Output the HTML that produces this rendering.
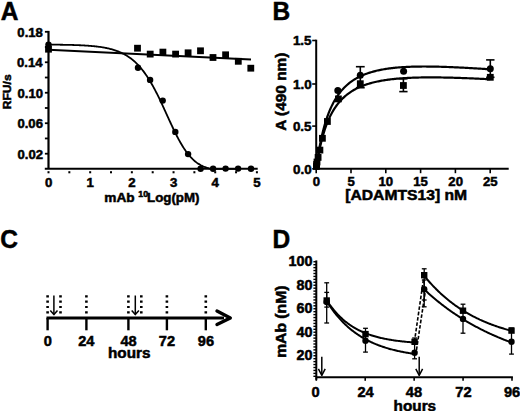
<!DOCTYPE html>
<html><head><meta charset="utf-8"><style>
html,body{margin:0;padding:0;background:#fff;width:520px;height:411px;overflow:hidden}
svg{display:block}
text{font-family:"Liberation Sans",sans-serif;font-weight:bold;fill:#000}
</style></head><body>
<svg width="520" height="411" viewBox="0 0 520 411">
<text x="0.72" y="19.55" font-size="25.0" textLength="17.69" lengthAdjust="spacingAndGlyphs" stroke="#000" stroke-width="0.5">A</text>
<line x1="48.50" y1="30.90" x2="48.50" y2="168.80" stroke="#000" stroke-width="2.2" />
<line x1="44.80" y1="168.80" x2="257.70" y2="168.80" stroke="#000" stroke-width="2.1" />
<line x1="44.90" y1="31.80" x2="48.50" y2="31.80" stroke="#000" stroke-width="1.8" />
<line x1="44.90" y1="47.04" x2="48.50" y2="47.04" stroke="#000" stroke-width="1.8" />
<line x1="44.90" y1="62.27" x2="48.50" y2="62.27" stroke="#000" stroke-width="1.8" />
<line x1="44.90" y1="77.51" x2="48.50" y2="77.51" stroke="#000" stroke-width="1.8" />
<line x1="44.90" y1="92.75" x2="48.50" y2="92.75" stroke="#000" stroke-width="1.8" />
<line x1="44.90" y1="107.99" x2="48.50" y2="107.99" stroke="#000" stroke-width="1.8" />
<line x1="44.90" y1="123.23" x2="48.50" y2="123.23" stroke="#000" stroke-width="1.8" />
<line x1="44.90" y1="138.46" x2="48.50" y2="138.46" stroke="#000" stroke-width="1.8" />
<line x1="44.90" y1="153.70" x2="48.50" y2="153.70" stroke="#000" stroke-width="1.8" />
<text x="17.36" y="36.80" font-size="12.5" textLength="25.55" lengthAdjust="spacingAndGlyphs" stroke="#000" stroke-width="0.5">0.18</text>
<text x="17.03" y="67.28" font-size="12.5" textLength="25.55" lengthAdjust="spacingAndGlyphs" stroke="#000" stroke-width="0.5">0.14</text>
<text x="17.49" y="97.75" font-size="12.5" textLength="25.55" lengthAdjust="spacingAndGlyphs" stroke="#000" stroke-width="0.5">0.10</text>
<text x="17.43" y="128.23" font-size="12.5" textLength="25.55" lengthAdjust="spacingAndGlyphs" stroke="#000" stroke-width="0.5">0.06</text>
<text x="17.48" y="158.70" font-size="12.5" textLength="25.55" lengthAdjust="spacingAndGlyphs" stroke="#000" stroke-width="0.5">0.02</text>
<line x1="48.50" y1="171.20" x2="48.50" y2="173.30" stroke="#000" stroke-width="2.0" />
<line x1="69.34" y1="171.20" x2="69.34" y2="173.30" stroke="#000" stroke-width="2.0" />
<line x1="90.18" y1="171.20" x2="90.18" y2="173.30" stroke="#000" stroke-width="2.0" />
<line x1="111.02" y1="171.20" x2="111.02" y2="173.30" stroke="#000" stroke-width="2.0" />
<line x1="131.86" y1="171.20" x2="131.86" y2="173.30" stroke="#000" stroke-width="2.0" />
<line x1="152.70" y1="171.20" x2="152.70" y2="173.30" stroke="#000" stroke-width="2.0" />
<line x1="173.54" y1="171.20" x2="173.54" y2="173.30" stroke="#000" stroke-width="2.0" />
<line x1="194.38" y1="171.20" x2="194.38" y2="173.30" stroke="#000" stroke-width="2.0" />
<line x1="215.22" y1="171.20" x2="215.22" y2="173.30" stroke="#000" stroke-width="2.0" />
<line x1="236.06" y1="171.20" x2="236.06" y2="173.30" stroke="#000" stroke-width="2.0" />
<line x1="256.90" y1="171.20" x2="256.90" y2="173.30" stroke="#000" stroke-width="2.0" />
<text x="44.98" y="186.70" font-size="12.5" textLength="7.37" lengthAdjust="spacingAndGlyphs" stroke="#000" stroke-width="0.5">0</text>
<text x="86.41" y="186.70" font-size="12.5" textLength="7.37" lengthAdjust="spacingAndGlyphs" stroke="#000" stroke-width="0.5">1</text>
<text x="128.36" y="186.76" font-size="12.5" textLength="7.37" lengthAdjust="spacingAndGlyphs" stroke="#000" stroke-width="0.5">2</text>
<text x="170.09" y="186.69" font-size="12.5" textLength="7.37" lengthAdjust="spacingAndGlyphs" stroke="#000" stroke-width="0.5">3</text>
<text x="211.62" y="186.70" font-size="12.5" textLength="7.37" lengthAdjust="spacingAndGlyphs" stroke="#000" stroke-width="0.5">4</text>
<text x="253.35" y="186.64" font-size="12.5" textLength="7.37" lengthAdjust="spacingAndGlyphs" stroke="#000" stroke-width="0.5">5</text>
<text x="104.30" y="201.50" font-size="12.4" textLength="30.31" lengthAdjust="spacingAndGlyphs" stroke="#000" stroke-width="0.5">mAb</text>
<text x="138.35" y="197.43" font-size="8.2" textLength="9.76" lengthAdjust="spacingAndGlyphs" stroke="#000" stroke-width="0.5">10</text>
<text x="147.01" y="201.68" font-size="12.8" textLength="52.48" lengthAdjust="spacingAndGlyphs" stroke="#000" stroke-width="0.5">Log(pM)</text>
<text transform="translate(11.26,109.36) rotate(-90)" x="0" y="0" font-size="11.8" textLength="35.11" lengthAdjust="spacingAndGlyphs" stroke="#000" stroke-width="0.5">RFU/s</text>
<path d="M48.50,44.61 L49.24,44.62 L49.98,44.62 L50.72,44.63 L51.46,44.63 L52.20,44.64 L52.94,44.65 L53.68,44.65 L54.42,44.66 L55.15,44.67 L55.89,44.68 L56.63,44.69 L57.37,44.69 L58.11,44.70 L58.85,44.71 L59.59,44.72 L60.33,44.73 L61.07,44.74 L61.81,44.75 L62.55,44.77 L63.29,44.78 L64.03,44.79 L64.77,44.80 L65.51,44.82 L66.25,44.83 L66.98,44.85 L67.72,44.86 L68.46,44.88 L69.20,44.90 L69.94,44.92 L70.68,44.93 L71.42,44.95 L72.16,44.97 L72.90,45.00 L73.64,45.02 L74.38,45.04 L75.12,45.07 L75.86,45.09 L76.60,45.12 L77.34,45.15 L78.08,45.18 L78.81,45.21 L79.55,45.24 L80.29,45.27 L81.03,45.30 L81.77,45.34 L82.51,45.38 L83.25,45.42 L83.99,45.46 L84.73,45.50 L85.47,45.55 L86.21,45.59 L86.95,45.64 L87.69,45.69 L88.43,45.74 L89.17,45.80 L89.91,45.86 L90.64,45.92 L91.38,45.98 L92.12,46.05 L92.86,46.11 L93.60,46.19 L94.34,46.26 L95.08,46.34 L95.82,46.42 L96.56,46.50 L97.30,46.59 L98.04,46.68 L98.78,46.78 L99.52,46.88 L100.26,46.98 L101.00,47.09 L101.74,47.21 L102.47,47.33 L103.21,47.45 L103.95,47.58 L104.69,47.71 L105.43,47.85 L106.17,48.00 L106.91,48.15 L107.65,48.31 L108.39,48.48 L109.13,48.65 L109.87,48.83 L110.61,49.02 L111.35,49.21 L112.09,49.41 L112.83,49.63 L113.57,49.85 L114.31,50.08 L115.04,50.32 L115.78,50.57 L116.52,50.83 L117.26,51.10 L118.00,51.38 L118.74,51.67 L119.48,51.97 L120.22,52.29 L120.96,52.62 L121.70,52.96 L122.44,53.32 L123.18,53.69 L123.92,54.07 L124.66,54.47 L125.40,54.89 L126.14,55.32 L126.87,55.77 L127.61,56.23 L128.35,56.71 L129.09,57.22 L129.83,57.74 L130.57,58.27 L131.31,58.83 L132.05,59.41 L132.79,60.01 L133.53,60.63 L134.27,61.28 L135.01,61.94 L135.75,62.63 L136.49,63.35 L137.23,64.08 L137.97,64.84 L138.70,65.63 L139.44,66.44 L140.18,67.28 L140.92,68.15 L141.66,69.04 L142.40,69.96 L143.14,70.90 L143.88,71.88 L144.62,72.88 L145.36,73.91 L146.10,74.97 L146.84,76.06 L147.58,77.18 L148.32,78.32 L149.06,79.50 L149.80,80.70 L150.53,81.93 L151.27,83.19 L152.01,84.47 L152.75,85.79 L153.49,87.13 L154.23,88.49 L154.97,89.89 L155.71,91.30 L156.45,92.74 L157.19,94.20 L157.93,95.69 L158.67,97.19 L159.41,98.71 L160.15,100.25 L160.89,101.81 L161.63,103.38 L162.36,104.97 L163.10,106.57 L163.84,108.17 L164.58,109.79 L165.32,111.41 L166.06,113.03 L166.80,114.66 L167.54,116.29 L168.28,117.91 L169.02,119.53 L169.76,121.15 L170.50,122.75 L171.24,124.35 L171.98,125.93 L172.72,127.50 L173.46,129.06 L174.19,130.59 L174.93,132.11 L175.67,133.60 L176.41,135.07 L177.15,136.51 L177.89,137.93 L178.63,139.32 L179.37,140.68 L180.11,142.00 L180.85,143.30 L181.59,144.56 L182.33,145.79 L183.07,146.98 L183.81,148.14 L184.55,149.26 L185.29,150.35 L186.03,151.40 L186.76,152.41 L187.50,153.39 L188.24,154.33 L188.98,155.23 L189.72,156.10 L190.46,156.93 L191.20,157.72 L191.94,158.48 L192.68,159.21 L193.42,159.90 L194.16,160.56 L194.90,161.19 L195.64,161.79 L196.38,162.35 L197.12,162.89 L197.86,163.40 L198.59,163.89 L199.33,164.34 L200.07,164.77 L200.81,165.18 L201.55,165.56 L202.29,165.92 L203.03,166.26 L203.77,166.58 L204.51,166.88 L205.25,167.16 L205.99,167.43 L206.73,167.68 L207.47,167.91 L208.21,168.12 L208.95,168.33 L209.69,168.52 L210.42,168.69 L211.16,168.80 L211.90,168.80 L212.64,168.80 L213.38,168.80 L214.12,168.80 L214.86,168.80 L215.60,168.80 L216.34,168.80 L217.08,168.80 L217.82,168.80 L218.56,168.80 L219.30,168.80 L220.04,168.80 L220.78,168.80 L221.52,168.80 L222.25,168.80 L222.99,168.80 L223.73,168.80 L224.47,168.80 L225.21,168.80 L225.95,168.80 L226.69,168.80 L227.43,168.80 L228.17,168.80 L228.91,168.80 L229.65,168.80 L230.39,168.80 L231.13,168.80 L231.87,168.80 L232.61,168.80 L233.35,168.80 L234.08,168.80 L234.82,168.80 L235.56,168.80 L236.30,168.80 L237.04,168.80 L237.78,168.80 L238.52,168.80 L239.26,168.80 L240.00,168.80" fill="none" stroke="#000" stroke-width="1.8" stroke-linejoin="round" />
<path d="M48.50,49.76 L251.00,59.52" fill="none" stroke="#000" stroke-width="1.8" stroke-linejoin="round" />
<rect x="134.10" y="44.80" width="6.8" height="6.8"/>
<rect x="146.80" y="50.70" width="6.8" height="6.8"/>
<rect x="159.50" y="48.70" width="6.8" height="6.8"/>
<rect x="172.20" y="50.70" width="6.8" height="6.8"/>
<rect x="184.70" y="49.40" width="6.8" height="6.8"/>
<rect x="197.10" y="47.40" width="6.8" height="6.8"/>
<rect x="209.60" y="54.10" width="6.8" height="6.8"/>
<rect x="222.20" y="51.40" width="6.8" height="6.8"/>
<rect x="234.90" y="57.90" width="6.8" height="6.8"/>
<rect x="247.40" y="64.80" width="6.8" height="6.8"/>
<circle cx="138.00" cy="67.80" r="3.2"/>
<circle cx="150.10" cy="79.90" r="3.2"/>
<circle cx="162.70" cy="100.60" r="3.2"/>
<circle cx="175.30" cy="131.90" r="3.2"/>
<circle cx="188.10" cy="154.10" r="3.2"/>
<circle cx="200.60" cy="168.70" r="3.2"/>
<circle cx="213.10" cy="168.70" r="3.2"/>
<circle cx="225.60" cy="168.60" r="3.2"/>
<circle cx="238.10" cy="168.60" r="3.2"/>
<circle cx="251.00" cy="168.70" r="3.2"/>
<circle cx="48.50" cy="44.60" r="3.2"/>
<rect x="45.10" y="45.80" width="6.8" height="6.8"/>
<text x="272.59" y="19.55" font-size="25.0" textLength="17.69" lengthAdjust="spacingAndGlyphs" stroke="#000" stroke-width="0.5">B</text>
<line x1="316.20" y1="39.70" x2="316.20" y2="169.80" stroke="#000" stroke-width="2" />
<line x1="315.20" y1="168.80" x2="508.70" y2="168.80" stroke="#000" stroke-width="2" />
<line x1="312.20" y1="40.50" x2="316.20" y2="40.50" stroke="#000" stroke-width="1.6" />
<text x="292.92" y="45.17" font-size="12.9" textLength="18.65" lengthAdjust="spacingAndGlyphs" stroke="#000" stroke-width="0.5">1.5</text>
<line x1="312.20" y1="84.00" x2="316.20" y2="84.00" stroke="#000" stroke-width="1.6" />
<text x="293.10" y="88.74" font-size="12.9" textLength="18.65" lengthAdjust="spacingAndGlyphs" stroke="#000" stroke-width="0.5">1.0</text>
<line x1="312.20" y1="126.10" x2="316.20" y2="126.10" stroke="#000" stroke-width="1.6" />
<text x="292.92" y="130.84" font-size="12.9" textLength="18.65" lengthAdjust="spacingAndGlyphs" stroke="#000" stroke-width="0.5">0.5</text>
<line x1="312.20" y1="168.80" x2="316.20" y2="168.80" stroke="#000" stroke-width="1.6" />
<text x="293.10" y="173.54" font-size="12.9" textLength="18.65" lengthAdjust="spacingAndGlyphs" stroke="#000" stroke-width="0.5">0.0</text>
<line x1="316.20" y1="168.80" x2="316.20" y2="173.20" stroke="#000" stroke-width="1.6" />
<text x="312.74" y="186.41" font-size="12.8" textLength="7.33" lengthAdjust="spacingAndGlyphs" stroke="#000" stroke-width="0.5">0</text>
<line x1="351.00" y1="168.80" x2="351.00" y2="173.20" stroke="#000" stroke-width="1.6" />
<text x="347.51" y="186.34" font-size="12.8" textLength="7.33" lengthAdjust="spacingAndGlyphs" stroke="#000" stroke-width="0.5">5</text>
<line x1="385.80" y1="168.80" x2="385.80" y2="173.20" stroke="#000" stroke-width="1.6" />
<text x="378.52" y="186.41" font-size="12.8" textLength="14.66" lengthAdjust="spacingAndGlyphs" stroke="#000" stroke-width="0.5">10</text>
<line x1="420.60" y1="168.80" x2="420.60" y2="173.20" stroke="#000" stroke-width="1.6" />
<text x="413.24" y="186.34" font-size="12.8" textLength="14.66" lengthAdjust="spacingAndGlyphs" stroke="#000" stroke-width="0.5">15</text>
<line x1="455.40" y1="168.80" x2="455.40" y2="173.20" stroke="#000" stroke-width="1.6" />
<text x="448.31" y="186.41" font-size="12.8" textLength="14.66" lengthAdjust="spacingAndGlyphs" stroke="#000" stroke-width="0.5">20</text>
<line x1="490.20" y1="168.80" x2="490.20" y2="173.20" stroke="#000" stroke-width="1.6" />
<text x="483.02" y="186.41" font-size="12.8" textLength="14.66" lengthAdjust="spacingAndGlyphs" stroke="#000" stroke-width="0.5">25</text>
<text x="345.22" y="200.43" font-size="14.25" textLength="121.91" lengthAdjust="spacingAndGlyphs" stroke="#000" stroke-width="0.5">[ADAMTS13] nM</text>
<text transform="translate(286.16,130.72) rotate(-90)" x="0" y="0" font-size="14.15" textLength="78.13" lengthAdjust="spacingAndGlyphs" stroke="#000" stroke-width="0.5">A (490 nm)</text>
<path d="M316.20,168.80 L316.38,167.46 L316.55,166.14 L316.73,164.85 L316.90,163.59 L317.08,162.35 L317.26,161.13 L317.43,159.93 L317.61,158.76 L317.79,157.61 L317.96,156.48 L318.14,155.37 L318.31,154.28 L318.49,153.21 L318.67,152.16 L318.84,151.13 L319.02,150.12 L319.20,149.12 L319.37,148.14 L319.55,147.18 L319.72,146.23 L319.90,145.30 L320.08,144.38 L320.25,143.48 L320.43,142.60 L320.61,141.73 L320.78,140.87 L320.96,140.03 L321.13,139.20 L321.31,138.38 L321.49,137.58 L321.66,136.79 L321.84,136.01 L322.01,135.24 L322.19,134.49 L322.37,133.74 L322.54,133.01 L322.72,132.29 L322.90,131.58 L323.07,130.88 L323.25,130.19 L323.42,129.51 L323.60,128.84 L323.78,128.18 L323.95,127.53 L324.13,126.89 L324.31,126.25 L324.48,125.63 L324.66,125.02 L324.83,124.41 L325.01,123.81 L325.19,123.22 L325.36,122.64 L325.54,122.07 L325.71,121.50 L325.89,120.95 L326.07,120.40 L326.24,119.85 L326.42,119.32 L326.60,118.79 L326.77,118.27 L326.95,117.75 L327.12,117.24 L327.30,116.74 L327.48,116.25 L327.65,115.76 L327.83,115.28 L328.01,114.80 L328.18,114.33 L328.36,113.86 L328.53,113.40 L328.71,112.95 L328.89,112.50 L329.06,112.06 L329.24,111.62 L329.42,111.19 L329.59,110.77 L329.77,110.35 L329.94,109.93 L330.12,109.52 L330.12,109.52 L331.19,107.12 L332.27,104.88 L333.34,102.79 L334.42,100.83 L335.49,99.01 L336.57,97.29 L337.64,95.68 L338.71,94.17 L339.79,92.74 L340.86,91.40 L341.94,90.13 L343.01,88.93 L344.09,87.80 L345.16,86.73 L346.24,85.72 L347.31,84.76 L348.38,83.85 L349.46,82.98 L350.53,82.16 L351.61,81.38 L352.68,80.64 L353.76,79.94 L354.83,79.26 L355.90,78.63 L356.98,78.02 L358.05,77.44 L359.13,76.88 L360.20,76.36 L361.28,75.85 L362.35,75.37 L363.43,74.92 L364.50,74.48 L365.57,74.06 L366.65,73.67 L367.72,73.29 L368.80,72.92 L369.87,72.58 L370.95,72.25 L372.02,71.93 L373.09,71.63 L374.17,71.34 L375.24,71.07 L376.32,70.80 L377.39,70.55 L378.47,70.31 L379.54,70.08 L380.62,69.87 L381.69,69.66 L382.76,69.46 L383.84,69.27 L384.91,69.09 L385.99,68.92 L387.06,68.76 L388.14,68.60 L389.21,68.45 L390.28,68.31 L391.36,68.18 L392.43,68.05 L393.51,67.94 L394.58,67.82 L395.66,67.71 L396.73,67.61 L397.80,67.52 L398.88,67.43 L399.95,67.34 L401.03,67.26 L402.10,67.19 L403.18,67.12 L404.25,67.05 L405.33,66.99 L406.40,66.94 L407.47,66.88 L408.55,66.84 L409.62,66.79 L410.70,66.75 L411.77,66.71 L412.85,66.68 L413.92,66.65 L414.99,66.62 L416.07,66.60 L417.14,66.58 L418.22,66.56 L419.29,66.55 L420.37,66.54 L421.44,66.53 L422.52,66.52 L423.59,66.52 L424.66,66.52 L425.74,66.52 L426.81,66.53 L427.89,66.53 L428.96,66.54 L430.04,66.55 L431.11,66.56 L432.18,66.58 L433.26,66.60 L434.33,66.62 L435.41,66.64 L436.48,66.66 L437.56,66.68 L438.63,66.71 L439.70,66.74 L440.78,66.77 L441.85,66.80 L442.93,66.83 L444.00,66.87 L445.08,66.90 L446.15,66.94 L447.23,66.98 L448.30,67.02 L449.37,67.06 L450.45,67.10 L451.52,67.15 L452.60,67.19 L453.67,67.24 L454.75,67.28 L455.82,67.33 L456.89,67.38 L457.97,67.43 L459.04,67.48 L460.12,67.54 L461.19,67.59 L462.27,67.64 L463.34,67.70 L464.42,67.76 L465.49,67.81 L466.56,67.87 L467.64,67.93 L468.71,67.99 L469.79,68.05 L470.86,68.11 L471.94,68.17 L473.01,68.24 L474.08,68.30 L475.16,68.37 L476.23,68.43 L477.31,68.50 L478.38,68.56 L479.46,68.63 L480.53,68.70 L481.61,68.76 L482.68,68.83 L483.75,68.90 L484.83,68.97 L485.90,69.04 L486.98,69.11 L488.05,69.18 L489.13,69.25 L490.20,69.33" fill="none" stroke="#000" stroke-width="2.2" stroke-linejoin="round" />
<path d="M316.20,168.80 L316.38,167.61 L316.55,166.44 L316.73,165.29 L316.90,164.17 L317.08,163.07 L317.26,161.99 L317.43,160.93 L317.61,159.89 L317.79,158.87 L317.96,157.87 L318.14,156.88 L318.31,155.92 L318.49,154.97 L318.67,154.04 L318.84,153.12 L319.02,152.22 L319.20,151.34 L319.37,150.47 L319.55,149.62 L319.72,148.78 L319.90,147.96 L320.08,147.15 L320.25,146.35 L320.43,145.57 L320.61,144.79 L320.78,144.04 L320.96,143.29 L321.13,142.56 L321.31,141.83 L321.49,141.12 L321.66,140.42 L321.84,139.73 L322.01,139.05 L322.19,138.39 L322.37,137.73 L322.54,137.08 L322.72,136.44 L322.90,135.81 L323.07,135.20 L323.25,134.59 L323.42,133.98 L323.60,133.39 L323.78,132.81 L323.95,132.23 L324.13,131.67 L324.31,131.11 L324.48,130.56 L324.66,130.01 L324.83,129.48 L325.01,128.95 L325.19,128.43 L325.36,127.92 L325.54,127.41 L325.71,126.91 L325.89,126.42 L326.07,125.93 L326.24,125.45 L326.42,124.98 L326.60,124.51 L326.77,124.05 L326.95,123.59 L327.12,123.14 L327.30,122.70 L327.48,122.26 L327.65,121.83 L327.83,121.40 L328.01,120.98 L328.18,120.57 L328.36,120.16 L328.53,119.75 L328.71,119.35 L328.89,118.95 L329.06,118.56 L329.24,118.18 L329.42,117.80 L329.59,117.42 L329.77,117.05 L329.94,116.68 L330.12,116.32 L330.12,116.32 L331.19,114.19 L332.27,112.21 L333.34,110.36 L334.42,108.64 L335.49,107.02 L336.57,105.50 L337.64,104.07 L338.71,102.73 L339.79,101.47 L340.86,100.28 L341.94,99.15 L343.01,98.09 L344.09,97.08 L345.16,96.13 L346.24,95.23 L347.31,94.37 L348.38,93.56 L349.46,92.79 L350.53,92.06 L351.61,91.36 L352.68,90.69 L353.76,90.06 L354.83,89.46 L355.90,88.89 L356.98,88.34 L358.05,87.82 L359.13,87.32 L360.20,86.84 L361.28,86.39 L362.35,85.95 L363.43,85.54 L364.50,85.14 L365.57,84.76 L366.65,84.40 L367.72,84.05 L368.80,83.72 L369.87,83.40 L370.95,83.10 L372.02,82.81 L373.09,82.53 L374.17,82.26 L375.24,82.01 L376.32,81.77 L377.39,81.53 L378.47,81.31 L379.54,81.09 L380.62,80.89 L381.69,80.69 L382.76,80.51 L383.84,80.33 L384.91,80.16 L385.99,79.99 L387.06,79.84 L388.14,79.69 L389.21,79.54 L390.28,79.41 L391.36,79.28 L392.43,79.15 L393.51,79.04 L394.58,78.92 L395.66,78.82 L396.73,78.71 L397.80,78.62 L398.88,78.53 L399.95,78.44 L401.03,78.36 L402.10,78.28 L403.18,78.20 L404.25,78.13 L405.33,78.07 L406.40,78.00 L407.47,77.95 L408.55,77.89 L409.62,77.84 L410.70,77.79 L411.77,77.75 L412.85,77.70 L413.92,77.67 L414.99,77.63 L416.07,77.60 L417.14,77.57 L418.22,77.54 L419.29,77.52 L420.37,77.49 L421.44,77.47 L422.52,77.46 L423.59,77.44 L424.66,77.43 L425.74,77.42 L426.81,77.41 L427.89,77.40 L428.96,77.40 L430.04,77.40 L431.11,77.40 L432.18,77.40 L433.26,77.40 L434.33,77.41 L435.41,77.42 L436.48,77.42 L437.56,77.43 L438.63,77.45 L439.70,77.46 L440.78,77.47 L441.85,77.49 L442.93,77.51 L444.00,77.53 L445.08,77.55 L446.15,77.57 L447.23,77.59 L448.30,77.62 L449.37,77.64 L450.45,77.67 L451.52,77.70 L452.60,77.72 L453.67,77.75 L454.75,77.79 L455.82,77.82 L456.89,77.85 L457.97,77.88 L459.04,77.92 L460.12,77.96 L461.19,77.99 L462.27,78.03 L463.34,78.07 L464.42,78.11 L465.49,78.15 L466.56,78.19 L467.64,78.23 L468.71,78.27 L469.79,78.32 L470.86,78.36 L471.94,78.41 L473.01,78.45 L474.08,78.50 L475.16,78.54 L476.23,78.59 L477.31,78.64 L478.38,78.69 L479.46,78.74 L480.53,78.79 L481.61,78.84 L482.68,78.89 L483.75,78.94 L484.83,78.99 L485.90,79.04 L486.98,79.10 L488.05,79.15 L489.13,79.20 L490.20,79.26" fill="none" stroke="#000" stroke-width="2.2" stroke-linejoin="round" />
<line x1="360.30" y1="66.70" x2="360.30" y2="87.70" stroke="#000" stroke-width="1.6" />
<line x1="355.90" y1="66.70" x2="364.70" y2="66.70" stroke="#000" stroke-width="1.6" />
<line x1="355.90" y1="87.70" x2="364.70" y2="87.70" stroke="#000" stroke-width="1.6" />
<line x1="490.30" y1="59.90" x2="490.30" y2="77.30" stroke="#000" stroke-width="1.6" />
<line x1="486.10" y1="59.90" x2="494.50" y2="59.90" stroke="#000" stroke-width="1.6" />
<line x1="486.10" y1="77.30" x2="494.50" y2="77.30" stroke="#000" stroke-width="1.6" />
<line x1="403.40" y1="78.80" x2="403.40" y2="91.60" stroke="#000" stroke-width="1.6" />
<line x1="399.25" y1="78.80" x2="407.55" y2="78.80" stroke="#000" stroke-width="1.6" />
<line x1="399.25" y1="91.60" x2="407.55" y2="91.60" stroke="#000" stroke-width="1.6" />
<rect x="486.90" y="73.90" width="6.8" height="6.8"/>
<rect x="400.00" y="82.10" width="6.8" height="6.8"/>
<rect x="356.90" y="80.30" width="6.8" height="6.8"/>
<rect x="335.00" y="95.50" width="6.8" height="6.8"/>
<rect x="324.00" y="118.10" width="6.8" height="6.8"/>
<rect x="319.00" y="134.90" width="6.8" height="6.8"/>
<rect x="316.50" y="146.70" width="6.8" height="6.8"/>
<rect x="314.70" y="154.00" width="6.8" height="6.8"/>
<rect x="313.60" y="158.60" width="6.8" height="6.8"/>
<rect x="313.20" y="161.10" width="6.8" height="6.8"/>
<rect x="313.00" y="163.10" width="6.8" height="6.8"/>
<circle cx="490.30" cy="68.80" r="3.5"/>
<circle cx="403.60" cy="71.30" r="3.5"/>
<circle cx="360.30" cy="75.20" r="3.5"/>
<circle cx="337.80" cy="90.40" r="3.5"/>
<text x="0.19" y="247.91" font-size="25.0" textLength="17.69" lengthAdjust="spacingAndGlyphs" stroke="#000" stroke-width="0.5">C</text>
<line x1="46.50" y1="317.90" x2="224.00" y2="317.90" stroke="#000" stroke-width="3" />
<path d="M217.00,311.00 L230.30,317.90 L217.00,324.60" fill="none" stroke="#000" stroke-width="3.4" stroke-linejoin="round" stroke-linecap="round"/>
<line x1="47.60" y1="317.90" x2="47.60" y2="330.30" stroke="#000" stroke-width="2.4" />
<text x="43.65" y="345.78" font-size="13.9" textLength="8.12" lengthAdjust="spacingAndGlyphs" stroke="#000" stroke-width="0.5">0</text>
<line x1="86.40" y1="317.90" x2="86.40" y2="330.30" stroke="#000" stroke-width="2.4" />
<text x="78.17" y="345.85" font-size="13.9" textLength="16.23" lengthAdjust="spacingAndGlyphs" stroke="#000" stroke-width="0.5">24</text>
<line x1="128.40" y1="317.90" x2="128.40" y2="330.30" stroke="#000" stroke-width="2.4" />
<text x="120.50" y="345.78" font-size="13.9" textLength="16.23" lengthAdjust="spacingAndGlyphs" stroke="#000" stroke-width="0.5">48</text>
<line x1="166.90" y1="317.90" x2="166.90" y2="330.30" stroke="#000" stroke-width="2.4" />
<text x="158.86" y="345.85" font-size="13.9" textLength="16.23" lengthAdjust="spacingAndGlyphs" stroke="#000" stroke-width="0.5">72</text>
<line x1="205.80" y1="317.90" x2="205.80" y2="330.30" stroke="#000" stroke-width="2.4" />
<text x="197.79" y="345.78" font-size="13.9" textLength="16.23" lengthAdjust="spacingAndGlyphs" stroke="#000" stroke-width="0.5">96</text>
<text x="107.99" y="357.77" font-size="13.9" textLength="42.47" lengthAdjust="spacingAndGlyphs" stroke="#000" stroke-width="0.5">hours</text>
<line x1="47.60" y1="295.30" x2="47.60" y2="313.50" stroke="#000" stroke-width="2.6" stroke-dasharray="2.2 3.1"/>
<line x1="60.50" y1="295.30" x2="60.50" y2="313.50" stroke="#000" stroke-width="2.6" stroke-dasharray="2.2 3.1"/>
<line x1="86.40" y1="295.30" x2="86.40" y2="313.50" stroke="#000" stroke-width="2.6" stroke-dasharray="2.2 3.1"/>
<line x1="128.40" y1="295.30" x2="128.40" y2="313.50" stroke="#000" stroke-width="2.6" stroke-dasharray="2.2 3.1"/>
<line x1="141.30" y1="295.30" x2="141.30" y2="313.50" stroke="#000" stroke-width="2.6" stroke-dasharray="2.2 3.1"/>
<line x1="166.90" y1="295.30" x2="166.90" y2="313.50" stroke="#000" stroke-width="2.6" stroke-dasharray="2.2 3.1"/>
<line x1="205.80" y1="295.30" x2="205.80" y2="313.50" stroke="#000" stroke-width="2.6" stroke-dasharray="2.2 3.1"/>
<line x1="53.90" y1="295.50" x2="53.90" y2="314.50" stroke="#000" stroke-width="1.5" />
<path d="M50.30,310.40 L53.90,314.60 L57.50,310.40" fill="none" stroke="#000" stroke-width="1.5" stroke-linejoin="round" />
<line x1="135.30" y1="295.50" x2="135.30" y2="314.50" stroke="#000" stroke-width="1.5" />
<path d="M131.70,310.40 L135.30,314.60 L138.90,310.40" fill="none" stroke="#000" stroke-width="1.5" stroke-linejoin="round" />
<text x="272.60" y="247.55" font-size="25.0" textLength="17.69" lengthAdjust="spacingAndGlyphs" stroke="#000" stroke-width="0.5">D</text>
<line x1="316.30" y1="260.40" x2="316.30" y2="379.80" stroke="#000" stroke-width="2" />
<line x1="316.30" y1="377.30" x2="512.90" y2="377.30" stroke="#000" stroke-width="2" />
<line x1="313.40" y1="376.30" x2="316.30" y2="376.30" stroke="#000" stroke-width="1.4" />
<line x1="313.40" y1="373.37" x2="316.30" y2="373.37" stroke="#000" stroke-width="1.4" />
<line x1="313.40" y1="370.43" x2="316.30" y2="370.43" stroke="#000" stroke-width="1.4" />
<line x1="313.40" y1="367.49" x2="316.30" y2="367.49" stroke="#000" stroke-width="1.4" />
<line x1="313.40" y1="364.55" x2="316.30" y2="364.55" stroke="#000" stroke-width="1.4" />
<line x1="313.40" y1="361.62" x2="316.30" y2="361.62" stroke="#000" stroke-width="1.4" />
<line x1="313.40" y1="358.68" x2="316.30" y2="358.68" stroke="#000" stroke-width="1.4" />
<line x1="313.40" y1="355.74" x2="316.30" y2="355.74" stroke="#000" stroke-width="1.4" />
<line x1="313.40" y1="352.80" x2="316.30" y2="352.80" stroke="#000" stroke-width="1.4" />
<line x1="313.40" y1="349.87" x2="316.30" y2="349.87" stroke="#000" stroke-width="1.4" />
<line x1="313.40" y1="346.93" x2="316.30" y2="346.93" stroke="#000" stroke-width="1.4" />
<line x1="313.40" y1="343.99" x2="316.30" y2="343.99" stroke="#000" stroke-width="1.4" />
<line x1="313.40" y1="341.05" x2="316.30" y2="341.05" stroke="#000" stroke-width="1.4" />
<line x1="313.40" y1="338.12" x2="316.30" y2="338.12" stroke="#000" stroke-width="1.4" />
<line x1="313.40" y1="335.18" x2="316.30" y2="335.18" stroke="#000" stroke-width="1.4" />
<line x1="313.40" y1="332.24" x2="316.30" y2="332.24" stroke="#000" stroke-width="1.4" />
<line x1="313.40" y1="329.30" x2="316.30" y2="329.30" stroke="#000" stroke-width="1.4" />
<line x1="313.40" y1="326.37" x2="316.30" y2="326.37" stroke="#000" stroke-width="1.4" />
<line x1="313.40" y1="323.43" x2="316.30" y2="323.43" stroke="#000" stroke-width="1.4" />
<line x1="313.40" y1="320.49" x2="316.30" y2="320.49" stroke="#000" stroke-width="1.4" />
<line x1="313.40" y1="317.55" x2="316.30" y2="317.55" stroke="#000" stroke-width="1.4" />
<line x1="313.40" y1="314.62" x2="316.30" y2="314.62" stroke="#000" stroke-width="1.4" />
<line x1="313.40" y1="311.68" x2="316.30" y2="311.68" stroke="#000" stroke-width="1.4" />
<line x1="313.40" y1="308.74" x2="316.30" y2="308.74" stroke="#000" stroke-width="1.4" />
<line x1="313.40" y1="305.80" x2="316.30" y2="305.80" stroke="#000" stroke-width="1.4" />
<line x1="313.40" y1="302.87" x2="316.30" y2="302.87" stroke="#000" stroke-width="1.4" />
<line x1="313.40" y1="299.93" x2="316.30" y2="299.93" stroke="#000" stroke-width="1.4" />
<line x1="313.40" y1="296.99" x2="316.30" y2="296.99" stroke="#000" stroke-width="1.4" />
<line x1="313.40" y1="294.05" x2="316.30" y2="294.05" stroke="#000" stroke-width="1.4" />
<line x1="313.40" y1="291.12" x2="316.30" y2="291.12" stroke="#000" stroke-width="1.4" />
<line x1="313.40" y1="288.18" x2="316.30" y2="288.18" stroke="#000" stroke-width="1.4" />
<line x1="313.40" y1="285.24" x2="316.30" y2="285.24" stroke="#000" stroke-width="1.4" />
<line x1="313.40" y1="282.30" x2="316.30" y2="282.30" stroke="#000" stroke-width="1.4" />
<line x1="313.40" y1="279.37" x2="316.30" y2="279.37" stroke="#000" stroke-width="1.4" />
<line x1="313.40" y1="276.43" x2="316.30" y2="276.43" stroke="#000" stroke-width="1.4" />
<line x1="313.40" y1="273.49" x2="316.30" y2="273.49" stroke="#000" stroke-width="1.4" />
<line x1="313.40" y1="270.55" x2="316.30" y2="270.55" stroke="#000" stroke-width="1.4" />
<line x1="313.40" y1="267.62" x2="316.30" y2="267.62" stroke="#000" stroke-width="1.4" />
<line x1="313.40" y1="264.68" x2="316.30" y2="264.68" stroke="#000" stroke-width="1.4" />
<line x1="313.40" y1="261.74" x2="316.30" y2="261.74" stroke="#000" stroke-width="1.4" />
<text x="288.64" y="266.49" font-size="13.8" textLength="23.95" lengthAdjust="spacingAndGlyphs" stroke="#000" stroke-width="0.5">100</text>
<text x="296.62" y="289.99" font-size="13.8" textLength="15.96" lengthAdjust="spacingAndGlyphs" stroke="#000" stroke-width="0.5">80</text>
<text x="296.62" y="313.49" font-size="13.8" textLength="15.96" lengthAdjust="spacingAndGlyphs" stroke="#000" stroke-width="0.5">60</text>
<text x="296.62" y="336.99" font-size="13.8" textLength="15.96" lengthAdjust="spacingAndGlyphs" stroke="#000" stroke-width="0.5">40</text>
<text x="296.62" y="360.49" font-size="13.8" textLength="15.96" lengthAdjust="spacingAndGlyphs" stroke="#000" stroke-width="0.5">20</text>
<line x1="316.30" y1="377.30" x2="316.30" y2="380.80" stroke="#000" stroke-width="1.6" />
<text x="311.54" y="396.79" font-size="14.2" textLength="8.13" lengthAdjust="spacingAndGlyphs" stroke="#000" stroke-width="0.5">0</text>
<line x1="365.22" y1="377.30" x2="365.22" y2="380.80" stroke="#000" stroke-width="1.6" />
<text x="357.40" y="396.86" font-size="14.2" textLength="16.27" lengthAdjust="spacingAndGlyphs" stroke="#000" stroke-width="0.5">24</text>
<line x1="414.15" y1="377.30" x2="414.15" y2="380.80" stroke="#000" stroke-width="1.6" />
<text x="405.83" y="396.79" font-size="14.2" textLength="16.27" lengthAdjust="spacingAndGlyphs" stroke="#000" stroke-width="0.5">48</text>
<line x1="463.07" y1="377.30" x2="463.07" y2="380.80" stroke="#000" stroke-width="1.6" />
<text x="455.29" y="396.86" font-size="14.2" textLength="16.27" lengthAdjust="spacingAndGlyphs" stroke="#000" stroke-width="0.5">72</text>
<line x1="512.00" y1="377.30" x2="512.00" y2="380.80" stroke="#000" stroke-width="1.6" />
<text x="503.98" y="396.79" font-size="14.2" textLength="16.27" lengthAdjust="spacingAndGlyphs" stroke="#000" stroke-width="0.5">96</text>
<text x="393.63" y="410.77" font-size="13.9" textLength="42.47" lengthAdjust="spacingAndGlyphs" stroke="#000" stroke-width="0.5">hours</text>
<text transform="translate(285.77,357.82) rotate(-90)" x="0" y="0" font-size="14.0" textLength="72.28" lengthAdjust="spacingAndGlyphs" stroke="#000" stroke-width="0.5">mAb (nM)</text>
<path d="M326.55,300.00 L327.44,301.37 L328.33,302.70 L329.22,303.98 L330.11,305.23 L331.00,306.43 L331.89,307.60 L332.78,308.74 L333.67,309.84 L334.56,310.90 L335.45,311.94 L336.34,312.94 L337.23,313.91 L338.13,314.85 L339.02,315.76 L339.91,316.64 L340.80,317.50 L341.69,318.33 L342.58,319.14 L343.47,319.92 L344.36,320.67 L345.25,321.41 L346.14,322.12 L347.03,322.80 L347.92,323.47 L348.81,324.12 L349.70,324.75 L350.59,325.36 L351.48,325.94 L352.37,326.52 L353.26,327.07 L354.15,327.61 L355.04,328.13 L355.93,328.63 L356.82,329.12 L357.71,329.59 L358.60,330.05 L359.49,330.50 L360.39,330.93 L361.28,331.35 L362.17,331.75 L363.06,332.15 L363.95,332.53 L364.84,332.90 L365.73,333.26 L366.62,333.60 L367.51,333.94 L368.40,334.26 L369.29,334.58 L370.18,334.89 L371.07,335.18 L371.96,335.47 L372.85,335.75 L373.74,336.02 L374.63,336.28 L375.52,336.54 L376.41,336.78 L377.30,337.02 L378.19,337.25 L379.08,337.48 L379.97,337.70 L380.86,337.91 L381.76,338.11 L382.65,338.31 L383.54,338.50 L384.43,338.69 L385.32,338.87 L386.21,339.04 L387.10,339.21 L387.99,339.38 L388.88,339.53 L389.77,339.69 L390.66,339.84 L391.55,339.98 L392.44,340.12 L393.33,340.26 L394.22,340.39 L395.11,340.52 L396.00,340.64 L396.89,340.76 L397.78,340.88 L398.67,340.99 L399.56,341.10 L400.45,341.21 L401.34,341.31 L402.23,341.41 L403.12,341.51 L404.02,341.60 L404.91,341.69 L405.80,341.78 L406.69,341.87 L407.58,341.95 L408.47,342.03 L409.36,342.11 L410.25,342.18 L411.14,342.26 L412.03,342.33 L412.92,342.40 L413.81,342.46 L414.70,342.53" fill="none" stroke="#000" stroke-width="2" stroke-linejoin="round" />
<path d="M326.55,301.01 L327.44,302.42 L328.33,303.80 L329.22,305.14 L330.11,306.46 L331.00,307.74 L331.89,308.99 L332.78,310.21 L333.67,311.39 L334.56,312.55 L335.45,313.69 L336.34,314.79 L337.23,315.87 L338.13,316.92 L339.02,317.94 L339.91,318.94 L340.80,319.92 L341.69,320.87 L342.58,321.80 L343.47,322.71 L344.36,323.59 L345.25,324.45 L346.14,325.29 L347.03,326.12 L347.92,326.92 L348.81,327.70 L349.70,328.46 L350.59,329.20 L351.48,329.93 L352.37,330.64 L353.26,331.33 L354.15,332.00 L355.04,332.66 L355.93,333.30 L356.82,333.93 L357.71,334.54 L358.60,335.13 L359.49,335.71 L360.39,336.28 L361.28,336.83 L362.17,337.37 L363.06,337.90 L363.95,338.41 L364.84,338.91 L365.73,339.40 L366.62,339.88 L367.51,340.34 L368.40,340.80 L369.29,341.24 L370.18,341.67 L371.07,342.09 L371.96,342.51 L372.85,342.91 L373.74,343.30 L374.63,343.68 L375.52,344.05 L376.41,344.42 L377.30,344.77 L378.19,345.12 L379.08,345.45 L379.97,345.78 L380.86,346.10 L381.76,346.42 L382.65,346.72 L383.54,347.02 L384.43,347.31 L385.32,347.60 L386.21,347.87 L387.10,348.14 L387.99,348.41 L388.88,348.67 L389.77,348.92 L390.66,349.16 L391.55,349.40 L392.44,349.63 L393.33,349.86 L394.22,350.08 L395.11,350.30 L396.00,350.51 L396.89,350.72 L397.78,350.92 L398.67,351.11 L399.56,351.30 L400.45,351.49 L401.34,351.67 L402.23,351.85 L403.12,352.02 L404.02,352.19 L404.91,352.36 L405.80,352.52 L406.69,352.67 L407.58,352.83 L408.47,352.98 L409.36,353.12 L410.25,353.27 L411.14,353.40 L412.03,353.54 L412.92,353.67 L413.81,353.80 L414.70,353.93" fill="none" stroke="#000" stroke-width="2" stroke-linejoin="round" />
<path d="M424.13,275.72 L425.01,276.81 L425.89,277.87 L426.78,278.92 L427.66,279.96 L428.54,280.98 L429.42,281.98 L430.30,282.96 L431.19,283.94 L432.07,284.89 L432.95,285.83 L433.83,286.76 L434.72,287.67 L435.60,288.57 L436.48,289.46 L437.36,290.33 L438.24,291.19 L439.13,292.03 L440.01,292.86 L440.89,293.68 L441.77,294.49 L442.65,295.28 L443.54,296.06 L444.42,296.83 L445.30,297.59 L446.18,298.33 L447.07,299.07 L447.95,299.79 L448.83,300.50 L449.71,301.20 L450.59,301.89 L451.48,302.57 L452.36,303.24 L453.24,303.90 L454.12,304.55 L455.00,305.19 L455.89,305.81 L456.77,306.43 L457.65,307.04 L458.53,307.64 L459.41,308.23 L460.30,308.81 L461.18,309.38 L462.06,309.95 L462.94,310.50 L463.83,311.05 L464.71,311.59 L465.59,312.12 L466.47,312.64 L467.35,313.15 L468.24,313.66 L469.12,314.15 L470.00,314.64 L470.88,315.13 L471.76,315.60 L472.65,316.07 L473.53,316.53 L474.41,316.98 L475.29,317.43 L476.18,317.87 L477.06,318.30 L477.94,318.72 L478.82,319.14 L479.70,319.56 L480.59,319.96 L481.47,320.36 L482.35,320.76 L483.23,321.14 L484.11,321.53 L485.00,321.90 L485.88,322.27 L486.76,322.64 L487.64,323.00 L488.52,323.35 L489.41,323.70 L490.29,324.04 L491.17,324.38 L492.05,324.71 L492.94,325.03 L493.82,325.36 L494.70,325.67 L495.58,325.98 L496.46,326.29 L497.35,326.59 L498.23,326.89 L499.11,327.18 L499.99,327.47 L500.87,327.76 L501.76,328.04 L502.64,328.31 L503.52,328.58 L504.40,328.85 L505.29,329.11 L506.17,329.37 L507.05,329.63 L507.93,329.88 L508.81,330.12 L509.70,330.37 L510.58,330.61 L511.46,330.84" fill="none" stroke="#000" stroke-width="2" stroke-linejoin="round" />
<path d="M424.13,289.36 L425.01,290.18 L425.89,291.00 L426.78,291.81 L427.66,292.61 L428.54,293.40 L429.42,294.19 L430.30,294.97 L431.19,295.74 L432.07,296.50 L432.95,297.26 L433.83,298.01 L434.72,298.75 L435.60,299.49 L436.48,300.22 L437.36,300.94 L438.24,301.65 L439.13,302.36 L440.01,303.06 L440.89,303.76 L441.77,304.45 L442.65,305.13 L443.54,305.80 L444.42,306.47 L445.30,307.13 L446.18,307.79 L447.07,308.44 L447.95,309.09 L448.83,309.72 L449.71,310.36 L450.59,310.98 L451.48,311.60 L452.36,312.22 L453.24,312.82 L454.12,313.43 L455.00,314.02 L455.89,314.61 L456.77,315.20 L457.65,315.78 L458.53,316.35 L459.41,316.92 L460.30,317.49 L461.18,318.05 L462.06,318.60 L462.94,319.15 L463.83,319.69 L464.71,320.23 L465.59,320.76 L466.47,321.29 L467.35,321.81 L468.24,322.33 L469.12,322.84 L470.00,323.35 L470.88,323.85 L471.76,324.35 L472.65,324.84 L473.53,325.33 L474.41,325.82 L475.29,326.30 L476.18,326.77 L477.06,327.24 L477.94,327.71 L478.82,328.17 L479.70,328.63 L480.59,329.08 L481.47,329.53 L482.35,329.97 L483.23,330.41 L484.11,330.85 L485.00,331.28 L485.88,331.71 L486.76,332.14 L487.64,332.56 L488.52,332.97 L489.41,333.38 L490.29,333.79 L491.17,334.20 L492.05,334.60 L492.94,334.99 L493.82,335.39 L494.70,335.78 L495.58,336.16 L496.46,336.54 L497.35,336.92 L498.23,337.30 L499.11,337.67 L499.99,338.03 L500.87,338.40 L501.76,338.76 L502.64,339.12 L503.52,339.47 L504.40,339.82 L505.29,340.17 L506.17,340.51 L507.05,340.85 L507.93,341.19 L508.81,341.53 L509.70,341.86 L510.58,342.18 L511.46,342.51" fill="none" stroke="#000" stroke-width="2" stroke-linejoin="round" />
<line x1="414.40" y1="342.00" x2="424.00" y2="275.50" stroke="#000" stroke-width="1.6" stroke-dasharray="3.6 1.8"/>
<line x1="416.50" y1="350.00" x2="425.20" y2="292.00" stroke="#000" stroke-width="1.6" stroke-dasharray="3.6 1.8"/>
<line x1="326.70" y1="282.80" x2="326.70" y2="323.00" stroke="#000" stroke-width="1.3" />
<line x1="324.30" y1="282.80" x2="329.10" y2="282.80" stroke="#000" stroke-width="1.3" />
<line x1="324.30" y1="323.00" x2="329.10" y2="323.00" stroke="#000" stroke-width="1.3" />
<line x1="326.70" y1="292.40" x2="326.70" y2="307.10" stroke="#000" stroke-width="1.3" />
<line x1="324.30" y1="292.40" x2="329.10" y2="292.40" stroke="#000" stroke-width="1.3" />
<line x1="324.30" y1="307.10" x2="329.10" y2="307.10" stroke="#000" stroke-width="1.3" />
<line x1="365.50" y1="328.30" x2="365.50" y2="352.10" stroke="#000" stroke-width="1.3" />
<line x1="363.10" y1="328.30" x2="367.90" y2="328.30" stroke="#000" stroke-width="1.3" />
<line x1="363.10" y1="352.10" x2="367.90" y2="352.10" stroke="#000" stroke-width="1.3" />
<line x1="414.60" y1="338.00" x2="414.60" y2="358.80" stroke="#000" stroke-width="1.3" />
<line x1="412.20" y1="338.00" x2="417.00" y2="338.00" stroke="#000" stroke-width="1.3" />
<line x1="412.20" y1="358.80" x2="417.00" y2="358.80" stroke="#000" stroke-width="1.3" />
<line x1="424.20" y1="268.80" x2="424.20" y2="300.00" stroke="#000" stroke-width="1.3" />
<line x1="421.80" y1="268.80" x2="426.60" y2="268.80" stroke="#000" stroke-width="1.3" />
<line x1="421.80" y1="300.00" x2="426.60" y2="300.00" stroke="#000" stroke-width="1.3" />
<line x1="424.20" y1="280.00" x2="424.20" y2="306.80" stroke="#000" stroke-width="1.3" />
<line x1="421.80" y1="280.00" x2="426.60" y2="280.00" stroke="#000" stroke-width="1.3" />
<line x1="421.80" y1="306.80" x2="426.60" y2="306.80" stroke="#000" stroke-width="1.3" />
<line x1="463.00" y1="304.20" x2="463.00" y2="333.20" stroke="#000" stroke-width="1.3" />
<line x1="460.60" y1="304.20" x2="465.40" y2="304.20" stroke="#000" stroke-width="1.3" />
<line x1="460.60" y1="333.20" x2="465.40" y2="333.20" stroke="#000" stroke-width="1.3" />
<line x1="511.50" y1="328.00" x2="511.50" y2="354.10" stroke="#000" stroke-width="1.3" />
<line x1="509.10" y1="328.00" x2="513.90" y2="328.00" stroke="#000" stroke-width="1.3" />
<line x1="509.10" y1="354.10" x2="513.90" y2="354.10" stroke="#000" stroke-width="1.3" />
<rect x="323.50" y="297.30" width="6.4" height="6.4"/>
<rect x="362.30" y="330.90" width="6.4" height="6.4"/>
<rect x="411.40" y="338.60" width="6.4" height="6.4"/>
<rect x="421.00" y="272.00" width="6.4" height="6.4"/>
<rect x="459.80" y="307.50" width="6.4" height="6.4"/>
<rect x="508.30" y="327.40" width="6.4" height="6.4"/>
<circle cx="326.70" cy="302.00" r="3.2"/>
<circle cx="365.50" cy="340.70" r="3.2"/>
<circle cx="414.60" cy="352.80" r="3.2"/>
<circle cx="424.20" cy="289.20" r="3.2"/>
<circle cx="463.00" cy="318.90" r="3.2"/>
<circle cx="511.50" cy="341.70" r="3.2"/>
<line x1="321.80" y1="356.70" x2="321.80" y2="375.30" stroke="#000" stroke-width="1.5" />
<path d="M318.40,368.80 L321.80,375.30 L325.20,368.80" fill="none" stroke="#000" stroke-width="1.5" stroke-linejoin="round" />
<line x1="419.20" y1="356.70" x2="419.20" y2="375.30" stroke="#000" stroke-width="1.5" />
<path d="M415.80,368.80 L419.20,375.30 L422.60,368.80" fill="none" stroke="#000" stroke-width="1.5" stroke-linejoin="round" />
</svg>
</body></html>
